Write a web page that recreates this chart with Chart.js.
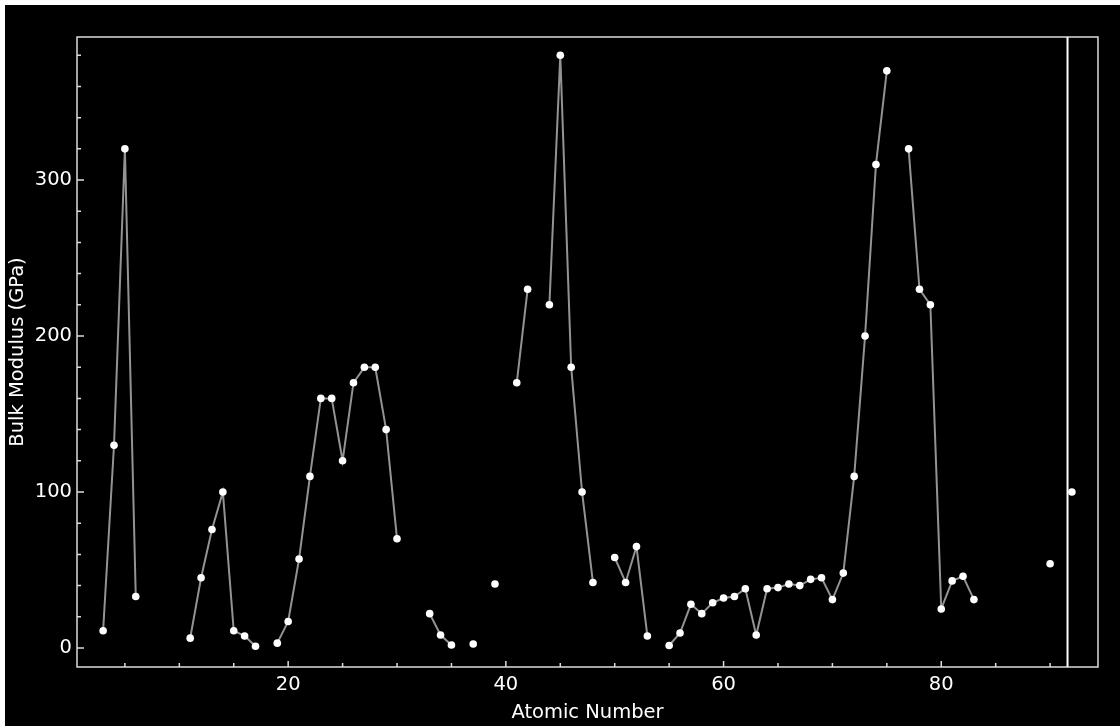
<!DOCTYPE html>
<html>
<head>
<meta charset="utf-8">
<script src="https://cdn.jsdelivr.net/npm/chart.js@4/dist/chart.umd.min.js"></script>
<style>
    html, body { margin: 0; padding: 0; background: #fff; }
    .chart-wrap { position: absolute; left: 5px; top: 5px; width: 1115px; height: 721px; background: #000; }
</style>
</head>
<body>
<div class="chart-wrap"><canvas class="js-chart" width="1115" height="721"></canvas></div>
<script>
const ctx = document.querySelector('.js-chart').getContext('2d');

// atomic numbers 3..92, null where the element has no value
const atomicNumbers = [
    3, 4, 5, 6, 7, 8, 9, 10, 11, 12, 13, 14, 15, 16, 17, 18, 19, 20,
    21, 22, 23, 24, 25, 26, 27, 28, 29, 30, 31, 32, 33, 34, 35, 36, 37, 38, 39, 40,
    41, 42, 43, 44, 45, 46, 47, 48, 49, 50, 51, 52, 53, 54, 55, 56, 57, 58, 59, 60,
    61, 62, 63, 64, 65, 66, 67, 68, 69, 70, 71, 72, 73, 74, 75, 76, 77, 78, 79, 80,
    81, 82, 83, 84, 85, 86, 87, 88, 89, 90, 91, 92
];
const bulkModulus = [
    11, 130, 320, 33, null, null, null, null, 6.3, 45, 76, 100, 11, 7.7, 1.1, null, 3.1, 17,
    57, 110, 160, 160, 120, 170, 180, 180, 140, 70, null, null, 22, 8.3, 1.9, null, 2.5, null, 41, null,
    170, 230, null, 220, 380, 180, 100, 42, null, 58, 42, 65, 7.7, null, 1.6, 9.6, 28, 22, 29, 32,
    33, 38, 8.3, 38, 38.7, 41, 40, 44, 45, 31, 48, 110, 200, 310, 370, null, 320, 230, 220, 25,
    43, 46, 31, null, null, null, null, null, null, 54, null, 100
];
const xTickLabels = [20, 40, 60, 80];
const yTickLabels = [0, 100, 200, 300];
const xMinorTicks = [5, 10, 15, 25, 30, 35, 45, 50, 55, 65, 70, 75, 85, 90];
const yMinorTicks = [20, 40, 60, 80, 120, 140, 160, 180, 220, 240, 260, 280, 320, 340, 360, 380];
const MARKER_X = 91.6;

const FONT = { family: '"DejaVu Sans", sans-serif', size: 19.5 };

// frame, inward ticks and the vertical marker line
const framePlugin = {
    id: 'frame',
    afterDraw(chart) {
        const { ctx, chartArea: a, scales: { x, y } } = chart;
        ctx.save();
        ctx.strokeStyle = '#dcdcdc';
        ctx.lineWidth = 1.5;
        ctx.strokeRect(a.left, a.top, a.right - a.left, a.bottom - a.top);

        ctx.beginPath();
        const tick = (px, len, horizontal) => {
            if (horizontal) { ctx.moveTo(a.left, px); ctx.lineTo(a.left + len, px); }
            else { ctx.moveTo(px, a.bottom); ctx.lineTo(px, a.bottom - len); }
        };
        xTickLabels.forEach(v => tick(x.getPixelForValue(v), 6, false));
        xMinorTicks.forEach(v => tick(x.getPixelForValue(v), 4, false));
        yTickLabels.forEach(v => tick(y.getPixelForValue(v), 7, true));
        yMinorTicks.forEach(v => tick(y.getPixelForValue(v), 4, true));
        ctx.stroke();

        ctx.strokeStyle = '#ffffff';
        ctx.lineWidth = 2;
        ctx.beginPath();
        const mx = x.getPixelForValue(MARKER_X);
        ctx.moveTo(mx, a.top);
        ctx.lineTo(mx, a.bottom);
        ctx.stroke();
        ctx.restore();
    }
};

function drawChart() {
    new Chart(ctx, {
        type: 'line',
        data: {
            datasets: [{
                data: atomicNumbers.map((z, i) => ({ x: z, y: bulkModulus[i] })),
                borderColor: '#939393',
                borderWidth: 2,
                pointRadius: 3.8,
                pointBackgroundColor: '#ffffff',
                pointBorderWidth: 0,
                spanGaps: false,
            }]
        },
        options: {
            responsive: false,
            animation: false,
            layout: { padding: { left: 0, top: 32, right: 22, bottom: 0 } },
            plugins: { legend: { display: false }, tooltip: { enabled: false } },
            scales: {
                x: {
                    type: 'linear',
                    min: 0.6,
                    max: 94.4,
                    afterBuildTicks(scale) { scale.ticks = xTickLabels.map(v => ({ value: v })); },
                    afterFit(scale) { scale.height = 59; },
                    ticks: { color: '#ffffff', font: FONT, padding: 6, maxRotation: 0 },
                    grid: { display: false, drawTicks: false },
                    border: { display: false },
                    title: { display: true, text: 'Atomic Number', color: '#ffffff', font: FONT, padding: { top: 0, bottom: 1 } }
                },
                y: {
                    min: -12.2,
                    max: 391.7,
                    afterBuildTicks(scale) { scale.ticks = yTickLabels.map(v => ({ value: v })); },
                    afterFit(scale) { scale.width = 72; },
                    ticks: { color: '#ffffff', font: FONT, padding: 5 },
                    grid: { display: false, drawTicks: false },
                    border: { display: false },
                    title: { display: true, text: 'Bulk Modulus (GPa)', color: '#ffffff', font: FONT, padding: { top: 1, bottom: 0 } }
                }
            }
        },
        plugins: [framePlugin]
    });
}

drawChart();
</script>
</body>
</html>
